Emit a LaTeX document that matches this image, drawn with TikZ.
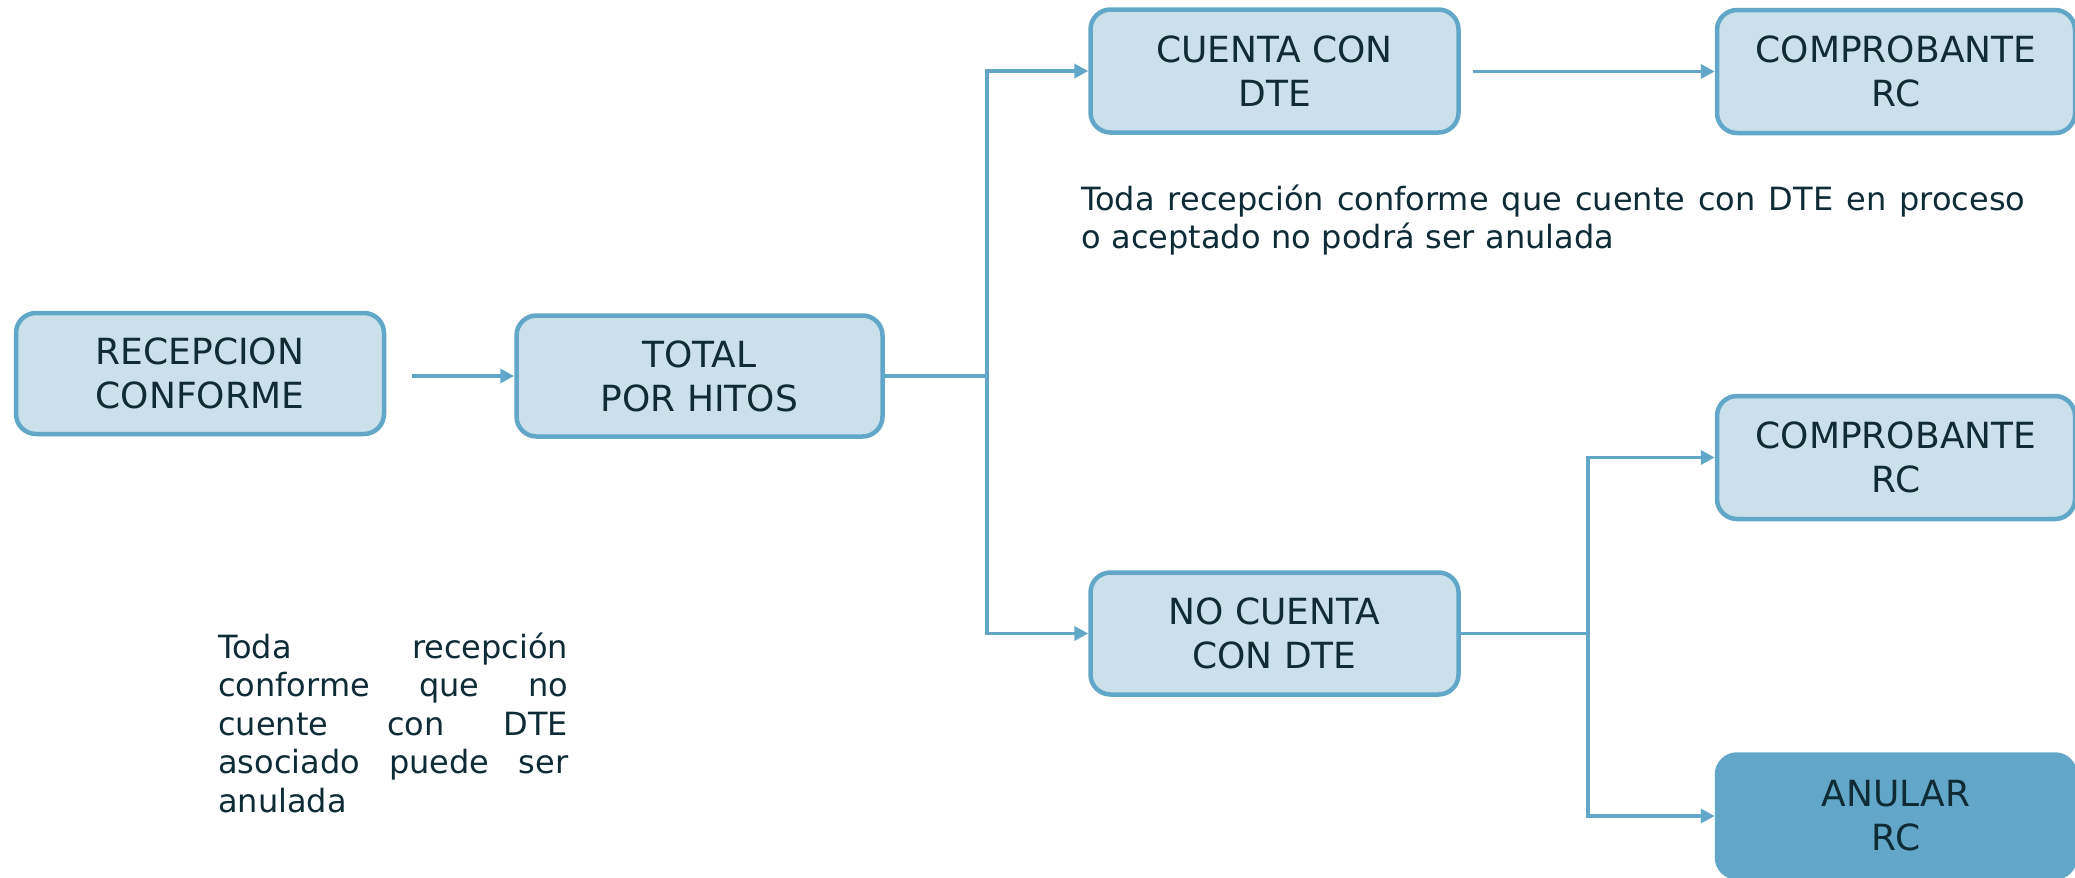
\documentclass[tikz,border=0pt]{standalone}
\usepackage{fontspec}
\setmainfont{DejaVu Sans}
\usetikzlibrary{arrows.meta}
\definecolor{boxfill}{HTML}{CAE0EA}
\definecolor{boxline}{HTML}{62A7C8}
\definecolor{txtcol}{HTML}{0E2B36}
\tikzset{
  flowbox/.style={draw=boxline, line width=4.5pt, fill=boxfill, rounded corners=20pt,
    inner sep=0pt, align=center, text=txtcol,
    font=\fontsize{36}{44}\selectfont},
  darkbox/.style={flowbox, fill=boxline},
  conn/.style={draw=boxline, line width=3.5pt},
  arr/.style={conn, -{Triangle[length=14pt,width=14pt]}},
  note/.style={inner sep=0pt, text=txtcol, font=\fontsize{32}{38.5}\selectfont}
}
\begin{document}
\begin{tikzpicture}[x=1pt,y=-1pt]
\useasboundingbox (0,0) rectangle (2075,878);
\node[flowbox, minimum width=368pt, minimum height=121pt] (rec) at (200,373.5) {RECEPCION\\CONFORME};
\node[flowbox, minimum width=366pt, minimum height=121pt] (tot) at (699.5,376) {TOTAL\\POR HITOS};
\node[flowbox, minimum width=368pt, minimum height=123pt] (cuenta) at (1274.5,71) {CUENTA CON\\DTE};
\node[flowbox, minimum width=368pt, minimum height=122pt] (nocuenta) at (1274.5,633.5) {NO CUENTA\\CON DTE};
\node[flowbox, minimum width=358pt, minimum height=123pt] (comp1) at (1896,71.5) {COMPROBANTE\\RC};
\node[flowbox, minimum width=358pt, minimum height=123pt] (comp2) at (1896,457.5) {COMPROBANTE\\RC};
\node[darkbox, minimum width=358pt, minimum height=123pt] (anular) at (1896,816) {ANULAR\\RC};

\coordinate (j1) at (987,376);
\coordinate (j2) at (1588,633.5);

\draw[arr] ([xshift=26pt]rec.east |- tot.west) -- (tot.west);
\draw[conn] (tot.east) -- (j1);
\draw[arr] (j1) |- (cuenta.west);
\draw[arr] (j1) |- (nocuenta.west);
\draw[arr] ([xshift=12pt]cuenta.east |- comp1.west) -- (comp1.west);
\draw[conn] (nocuenta.east) -- (j2);
\draw[arr] (j2) |- (comp2.west);
\draw[arr] (j2) |- (anular.west);

\node[note, text width=944pt, anchor=base west] (n1) at (1081,210)
  {\hbox to 944pt{Toda \hfill recepción \hfill conforme \hfill que \hfill cuente \hfill con \hfill DTE \hfill en \hfill proceso}\par
   o aceptado no podrá ser anulada};
\node[note, text width=350pt, anchor=base west] (n2) at (218,658)
  {\hbox to 350pt{Toda \hfill recepción}\par
   \hbox to 350pt{conforme \hfill que \hfill no}\par
   \hbox to 350pt{cuente \hfill con \hfill DTE}\par
   \hbox to 350pt{asociado \hfill puede \hfill ser}\par
   anulada};
\end{tikzpicture}
\end{document}
